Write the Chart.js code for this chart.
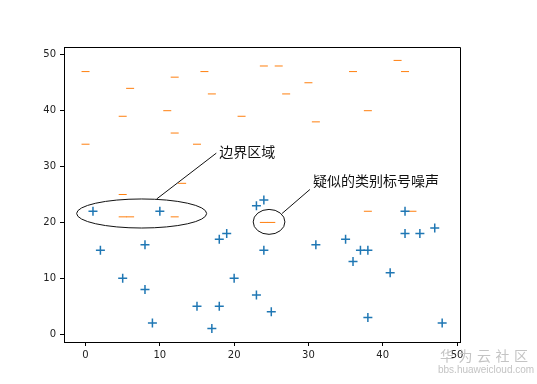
<!DOCTYPE html>
<html>
<head>
<meta charset="utf-8">
<script src="https://cdn.jsdelivr.net/npm/chart.js@4"></script>
<style>
  html, body { margin: 0; padding: 0; background: #fff; }
</style>
</head>
<body>
<canvas id="c" width="537" height="384"></canvas>
<script>
// 类别 "+" 的样本
const plusX = [1, 2, 5, 8, 8, 9, 10, 15, 17, 18, 18, 19, 20, 23, 23, 24, 24, 25, 31, 35, 36, 37, 38, 38, 41, 43, 43, 45, 47, 48];
const plusY = [22, 15, 10, 16, 8, 2, 22, 5, 1, 17, 5, 18, 10, 7, 23, 24, 15, 4, 16, 17, 13, 15, 15, 3, 11, 22, 18, 18, 19, 2];

// 类别 "_" 的样本
const dashX = [0, 0, 5, 5, 5, 6, 6, 11, 12, 12, 12, 13, 15, 16, 17, 21, 24, 26, 27, 30, 31, 24, 25, 36, 38, 38, 42, 43, 44];
const dashY = [47, 34, 39, 25, 21, 21, 44, 40, 46, 36, 21, 27, 34, 47, 43, 39, 48, 48, 43, 45, 38, 20, 20, 47, 40, 22, 49, 47, 22];

// 坐标轴刻度
const xTicks = [0, 10, 20, 30, 40, 50];
const yTicks = [0, 10, 20, 30, 40, 50];

// 注释文字
const noteBorder = '边界区域';
const noteNoise = '疑似的类别标号噪声';

function toPoints(xs, ys) {
    return xs.map((x, i) => ({ x: x, y: ys[i] }));
}

// 边框、椭圆、注释和水印
const decorPlugin = {
    id: 'decor',
    afterDatasetsDraw(chart) {
        const ctx = chart.ctx;
        const a = chart.chartArea;
        const sx = chart.scales.x;
        const sy = chart.scales.y;
        const px = v => sx.getPixelForValue(v);
        const py = v => sy.getPixelForValue(v);

        ctx.save();
        // 上、右边框
        ctx.strokeStyle = '#000';
        ctx.lineWidth = 1;
        ctx.beginPath();
        ctx.moveTo(a.left, a.top + 0.5);
        ctx.lineTo(a.right + 0.5, a.top + 0.5);
        ctx.lineTo(a.right + 0.5, a.bottom);
        ctx.stroke();

        // 椭圆
        const ellipse = (cx, cy, w, h) => {
            const x0 = px(cx), y0 = py(cy);
            const rx = Math.abs(px(cx + w / 2) - x0);
            const ry = Math.abs(py(cy + h / 2) - y0);
            ctx.beginPath();
            ctx.ellipse(x0, y0, rx, ry, 0, 0, Math.PI * 2);
            ctx.stroke();
        };
        ctx.strokeStyle = '#111';
        ctx.lineWidth = 1;
        ellipse(7.55, 21.6, 17.5, 5.2);
        ellipse(24.7, 20.1, 4.27, 4.46);

        // 指示线
        ctx.beginPath();
        ctx.moveTo(px(9.57), py(24.2));
        ctx.lineTo(px(17.6), py(32.4));
        ctx.moveTo(px(26.45), py(21.6));
        ctx.lineTo(px(30.2), py(25.9));
        ctx.stroke();

        // 注释文字
        ctx.fillStyle = '#111';
        ctx.font = '14px "Noto Sans CJK SC"';
        ctx.textBaseline = 'middle';
        ctx.textAlign = 'left';
        ctx.fillText(noteBorder, px(18.0), py(32.7));
        ctx.fillText(noteNoise, px(30.6), py(27.5));

        // 水印
        ctx.fillStyle = '#c4c4c4';
        ctx.font = '14px "Noto Sans CJK SC"';
        const wm = '华为云社区';
        for (let i = 0; i < wm.length; i++) {
            ctx.fillText(wm[i], 440 + i * 18.5, 356);
        }
        ctx.font = '10px "Liberation Sans"';
        ctx.fillText('bbs.huaweicloud.com', 438, 370);
        ctx.restore();
    }
};

const axisCommon = {
    type: 'linear',
    grid: { display: true, drawOnChartArea: false, drawTicks: true, tickLength: 4, color: '#000' },
    border: { display: true, color: '#000', width: 1 },
    ticks: {
        color: '#222',
        font: { family: 'DejaVu Sans', size: 10 },
        padding: 3
    }
};

new Chart(document.getElementById('c').getContext('2d'), {
    type: 'scatter',
    data: {
        datasets: [
            {
                label: '+',
                data: toPoints(plusX, plusY),
                pointStyle: 'cross',
                pointRadius: 4.5,
                borderColor: '#1f77b4',
                backgroundColor: '#1f77b4',
                borderWidth: 1.5
            },
            {
                label: '_',
                data: toPoints(dashX, dashY),
                pointStyle: 'line',
                pointRadius: 4,
                borderColor: '#ff7f0e',
                backgroundColor: '#ff7f0e',
                borderWidth: 1
            }
        ]
    },
    options: {
        responsive: false,
        animation: false,
        devicePixelRatio: 1,
        layout: { padding: { left: 0, top: 47, right: 77, bottom: 0 } },
        plugins: {
            legend: { display: false },
            tooltip: { enabled: false }
        },
        scales: {
            x: Object.assign({}, axisCommon, {
                min: -2.9,
                max: 50.4,
                afterBuildTicks: s => { s.ticks = xTicks.map(v => ({ value: v })); },
                afterFit: s => { s.height = 42; }
            }),
            y: Object.assign({}, axisCommon, {
                min: -1.4,
                max: 51.4,
                ticks: Object.assign({}, axisCommon.ticks, { padding: 4 }),
                afterBuildTicks: s => { s.ticks = yTicks.map(v => ({ value: v })); },
                afterFit: s => { s.width = 64; }
            })
        }
    },
    plugins: [decorPlugin]
});
</script>
</body>
</html>
